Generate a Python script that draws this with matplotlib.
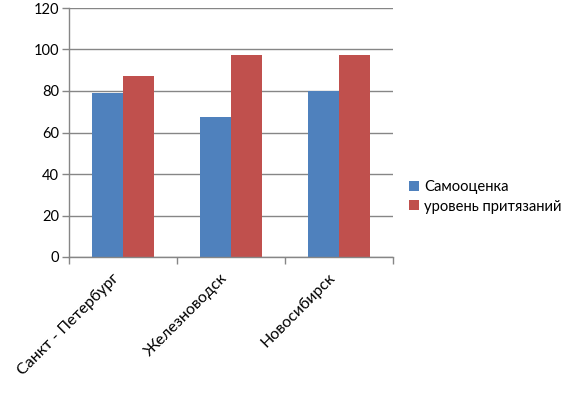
import matplotlib
matplotlib.use("Agg")
import matplotlib.pyplot as plt
import matplotlib.transforms as mtransforms
import numpy as np

categories = ["Санкт - Петербург", "Железноводск", "Новосибирск"]
series_names = ["Самооценка", "уровень притязаний"]
samoocenka = [79, 67.5, 80]
prityazaniya = [87, 97.5, 97.5]
yticks = [0, 20, 40, 60, 80, 100, 120]

plt.rcParams['font.family'] = ['Lato', 'DejaVu Sans']

fig = plt.figure(figsize=(5.77, 3.96), dpi=100)
ax = fig.add_axes([69/577, 1-257/396, (393-69)/577, (257-8)/396])

x = np.arange(len(categories))
w = 0.287
colors = ["#4F81BD", "#C0504D"]
ax.bar(x - w/2, samoocenka, w, color=colors[0], label=series_names[0], zorder=3)
ax.bar(x + w/2, prityazaniya, w, color=colors[1], label=series_names[1], zorder=3)

ax.set_xlim(-0.5, len(categories) - 0.5)
ax.set_ylim(0, 120)
ax.tick_params(axis='x', which='minor', length=0, pad=10)
ax.tick_params(axis='x', which='major', length=5, color='#868686', width=1)
ax.tick_params(axis='y', length=5, color='#868686', width=1, pad=2)
ax.set_yticks(yticks)
ax.set_yticklabels([str(v) for v in yticks], fontsize=10.5)
ax.set_xticks(np.arange(len(categories) + 1) - 0.5, minor=False)
ax.set_xticklabels([])
ax.set_xticks(x, minor=True)
ax.set_xticklabels(categories, minor=True, fontsize=11.5)
offset = mtransforms.ScaledTranslation(-11/100, 0, fig.dpi_scale_trans)
for lab in ax.get_xticklabels(minor=True):
    lab.set_rotation(45)
    lab.set_rotation_mode('anchor')
    lab.set_ha('right')
    lab.set_va('top')
    lab.set_transform(lab.get_transform() + offset)

ax.grid(axis='y', color='#868686', linewidth=1, zorder=0)
for s in ['top', 'right']:
    ax.spines[s].set_visible(False)
for s in ['left', 'bottom']:
    ax.spines[s].set_color('#868686')
    ax.spines[s].set_linewidth(1)
    ax.spines[s].set_zorder(4)

leg = fig.legend(loc='center left', bbox_to_anchor=(396/577, 1-197/396), frameon=False,
                 fontsize=10.6, handlelength=0.65, handleheight=0.65, handletextpad=0.35,
                 labelspacing=0.35)

fig.savefig("out.png", dpi=100)
